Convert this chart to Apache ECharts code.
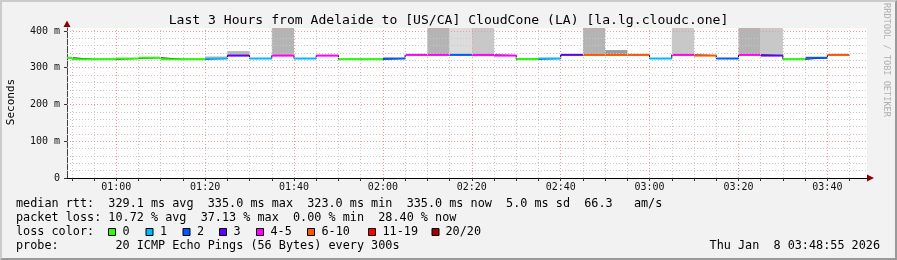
<!DOCTYPE html>
<html><head><meta charset="utf-8">
<script src="https://cdn.jsdelivr.net/npm/echarts@6/dist/echarts.min.js"></script>
<style>
html,body{margin:0;padding:0;background:#f2f2f2;}
#wrap{position:relative;width:897px;height:260px;overflow:hidden;}
#chart{position:absolute;left:0;top:0;width:897px;height:260px;}
#frame{position:absolute;left:0;top:0;width:897px;height:260px;box-sizing:border-box;border-style:solid;border-width:2px;border-color:#cbcbcb #999999 #999999 #cbcbcb;pointer-events:none;}
</style></head><body>
<div id="wrap"><div id="chart"></div><div id="frame"></div></div>
<script>
// ---------------- data ----------------
const windowStart = '00:48:55';
const windowEnd = '03:48:55';
const stepMinutes = 5;
const intervalEnds = ['00:50','00:55','01:00','01:05','01:10','01:15','01:20','01:25','01:30','01:35',
  '01:40','01:45','01:50','01:55','02:00','02:05','02:10','02:15','02:20','02:25',
  '02:30','02:35','02:40','02:45','02:50','02:55','03:00','03:05','03:10','03:15',
  '03:20','03:25','03:30','03:35','03:40','03:45'];
const medianMs = [327,323,323,325,327,323,323,325,333,325,
  333,325,333,323,323,325,335,335,335,335,
  333,323,325,335,335,335,335,325,335,333,
  325,335,333,323,327,335];
const lostPings = [0,0,0,0,0,0,0,1,3,1,
  5,1,4,0,0,2,4,5,2,4,
  4,0,1,3,7.4,6,6,1,5,6,
  2,4,3,0,2,5.68];
// smoke band (null = none); 420 = beyond the top of the chart
const smokeLowMs  = [null,null,null,null,null,null,null,325,333,null,
  333,null,null,null,null,null,null,335,335,331,
  null,323,null,null,335,335,null,null,335,null,
  null,335,333,null,325,null];
const smokeHighMs = [null,null,null,null,null,null,null,331,345,null,
  420,null,null,null,null,null,null,420,420,420,
  null,326,null,null,420,348,null,null,420,null,
  null,420,420,null,327,null];
const smokeDensity = [0,0,0,0,0,0,0,2,3,0,
  3,0,0,0,0,0,0,3,1,2,
  0,2,0,0,3,4,0,0,2,0,
  0,3,2,0,2,0];
const xTickLabels = ['01:00','01:20','01:40','02:00','02:20','02:40','03:00','03:20','03:40'];
const yTickValues = [0,100,200,300,400];
const yMaxMs = 408;
const lossLegend = ['0','1','2','3','4-5','6-10','11-19','20/20'];
const lossUpper = [0,1,2,3,5,10,19,20];

// ---------------- styles ----------------
const lossColors = ['#26ff00','#00b8ff','#0059ff','#5e00ff','#ff00ff','#ff5500','#ff0000','#a10000'];
const smokeColors = {1:'#dcdcdc',2:'#c8c8c8',3:'#b4b4b4',4:'#9c9c9c'};
const MONO = '"DejaVu Sans Mono", monospace';

// ---------------- helpers ----------------
function toMin(s){ const p = s.split(':').map(Number); return p[0]*60 + p[1] + (p[2]||0)/60; }
function pad(n){ return (n<10?'0':'') + n; }
function fmt(v){ v = Math.round(v); return pad(Math.floor(v/60)) + ':' + pad(v%60); }
function lossClass(l){ const r = Math.round(l); for (let i=0;i<lossUpper.length;i++) if (r<=lossUpper[i]) return i; return lossUpper.length-1; }

const t0 = toMin(windowStart), t1 = toMin(windowEnd);
const segs = intervalEnds.map((e,i)=>{
  const end = toMin(e);
  const start = Math.max(end - stepMinutes, t0);
  return {start, end, med: medianMs[i], loss: lostPings[i], lo: smokeLowMs[i], hi: smokeHighMs[i], dens: smokeDensity[i]};
});
const segData = segs.map(s=>[s.start, s.end, s.med, s.loss]);
const smokeData = segs.filter(s=>s.lo!==null).map(s=>[s.start, s.end, s.lo, s.hi, s.dens]);
const stepData = segs.map(s=>[s.start, s.med]);
stepData.push([segs[segs.length-1].end, segs[segs.length-1].med]);

// grid lines
const gridMarks = [];
const minor = '#c8c8c8', major = '#f09a9a';
for (let m = Math.ceil(t0/5)*5; m < t1; m += 5) {
  gridMarks.push({xAxis: m, lineStyle:{color: m%20===0 ? major : minor, type:[1,2], width:1}});
}
for (let v = 20; v <= 400; v += 20) {
  gridMarks.push({yAxis: v, lineStyle:{color: v%100===0 ? major : minor, type:[1,2], width:1}});
}
const minorTicks = [];
for (let m = Math.ceil(t0/5)*5; m < t1; m += 5) minorTicks.push(m);

// ---------------- graphic texts ----------------
const graphic = [];
function txt(x,y,text,opts){
  graphic.push(Object.assign({type:'text', x, y, silent:true, style:Object.assign({text, font:'11.8px '+MONO, fill:'#000', align:'left', verticalAlign:'middle'}, opts||{})}));
}
txt(16,204,'median rtt:  329.1 ms avg  335.0 ms max  323.0 ms min  335.0 ms now  5.0 ms sd  66.3   am/s');
txt(16,218,'packet loss: 10.72 % avg  37.13 % max  0.00 % min  28.40 % now');
txt(16,232,'loss color:');
txt(16,246,'probe:        20 ICMP Echo Pings (56 Bytes) every 300s');
txt(880,246,'Thu Jan  8 03:48:55 2026',{align:'right'});
const sqX = [108,145.5,182.5,219,256,307,368,431.5];
const lbX = [122.5,160,197,233.5,270.5,321.5,382.5,445.5];
lossLegend.forEach((l,i)=>{
  graphic.push({type:'rect', silent:true, shape:{x:sqX[i]+0.5, y:228.5, width:7, height:7}, style:{fill:lossColors[i], stroke:'#000', lineWidth:1}});
  txt(lbX[i],232,l);
});
graphic.push({type:'text', silent:true, x:11, y:102, rotation:Math.PI/2, style:{text:'Seconds', font:'11px '+MONO, fill:'#000', align:'center', verticalAlign:'middle'}});
graphic.push({type:'text', silent:true, x:886, y:60, rotation:-Math.PI/2, style:{text:'RRDTOOL / TOBI OETIKER', font:'8.6px '+MONO, fill:'#b0b0b0', align:'center', verticalAlign:'middle'}});
graphic.push({type:'polygon', silent:true, shape:{points:[[63.5,27],[70.5,27],[67,20.5]]}, style:{fill:'#8c0000'}});
graphic.push({type:'polygon', silent:true, shape:{points:[[867,174.5],[867,181.5],[874,178]]}, style:{fill:'#8c0000'}});

// ---------------- chart ----------------
const chart = echarts.init(document.getElementById('chart'), null, {renderer:'canvas'});
chart.setOption({
  animation:false,
  backgroundColor:'#f2f2f2',
  textStyle:{fontFamily:MONO},
  title:{text:'Last 3 Hours from Adelaide to [US/CA] CloudCone (LA) [la.lg.cloudc.one]', left:'center', top:9,
    textStyle:{fontFamily:MONO, fontSize:13.1, fontWeight:'normal', color:'#000'}},
  grid:{left:67, top:28, width:800, height:150, show:true, backgroundColor:'#ffffff', borderWidth:0, containLabel:false},
  xAxis:{type:'value', min:t0, max:t1, splitLine:{show:false},
    axisLine:{show:true, onZero:false, lineStyle:{color:'#000', width:1}},
    axisTick:{show:true, customValues:minorTicks, length:3, lineStyle:{color:'#333'}},
    axisLabel:{customValues:xTickLabels.map(toMin), formatter:v=>fmt(v), margin:4, fontSize:10, fontFamily:MONO, color:'#111'}},
  yAxis:{type:'value', min:0, max:yMaxMs, splitLine:{show:false},
    axisLine:{show:true, lineStyle:{color:'#404040', width:1}},
    axisTick:{show:true, customValues:yTickValues, length:3, lineStyle:{color:'#333'}},
    axisLabel:{customValues:yTickValues, formatter:v=>v===0?'0':(v+' m'), margin:7, fontSize:10, fontFamily:MONO, color:'#111'}},
  graphic,
  series:[
    {type:'custom', name:'smoke', z:1, clip:true, data:smokeData, encode:{x:[0,1], y:[2,3]},
      renderItem:(params, api)=>{
        const hi = Math.min(api.value(3), yMaxMs);
        const p0 = api.coord([api.value(0), hi]);
        const p1 = api.coord([api.value(1), api.value(2)]);
        return {type:'rect', shape:{x:p0[0], y:p0[1], width:p1[0]-p0[0], height:p1[1]-p0[1]}, style:{fill:smokeColors[api.value(4)]}};
      }},
    {type:'line', name:'grid', z:2, data:[], silent:true,
      markLine:{silent:true, symbol:['none','none'], label:{show:false}, animation:false, data:gridMarks}},
    {type:'line', name:'median-step', z:3, step:'end', data:stepData, showSymbol:false, symbol:'none',
      lineStyle:{color:'#000', width:1}},
    {type:'custom', name:'median', z:4, data:segData, encode:{x:[0,1], y:2},
      renderItem:(params, api)=>{
        const s = api.coord([api.value(0), api.value(2)]);
        const e = api.coord([api.value(1), api.value(2)]);
        return {type:'line', shape:{x1:s[0], y1:s[1], x2:e[0], y2:e[1]}, style:{stroke:lossColors[lossClass(api.value(3))], lineWidth:2}};
      }}
  ]
});
</script>
</body></html>
